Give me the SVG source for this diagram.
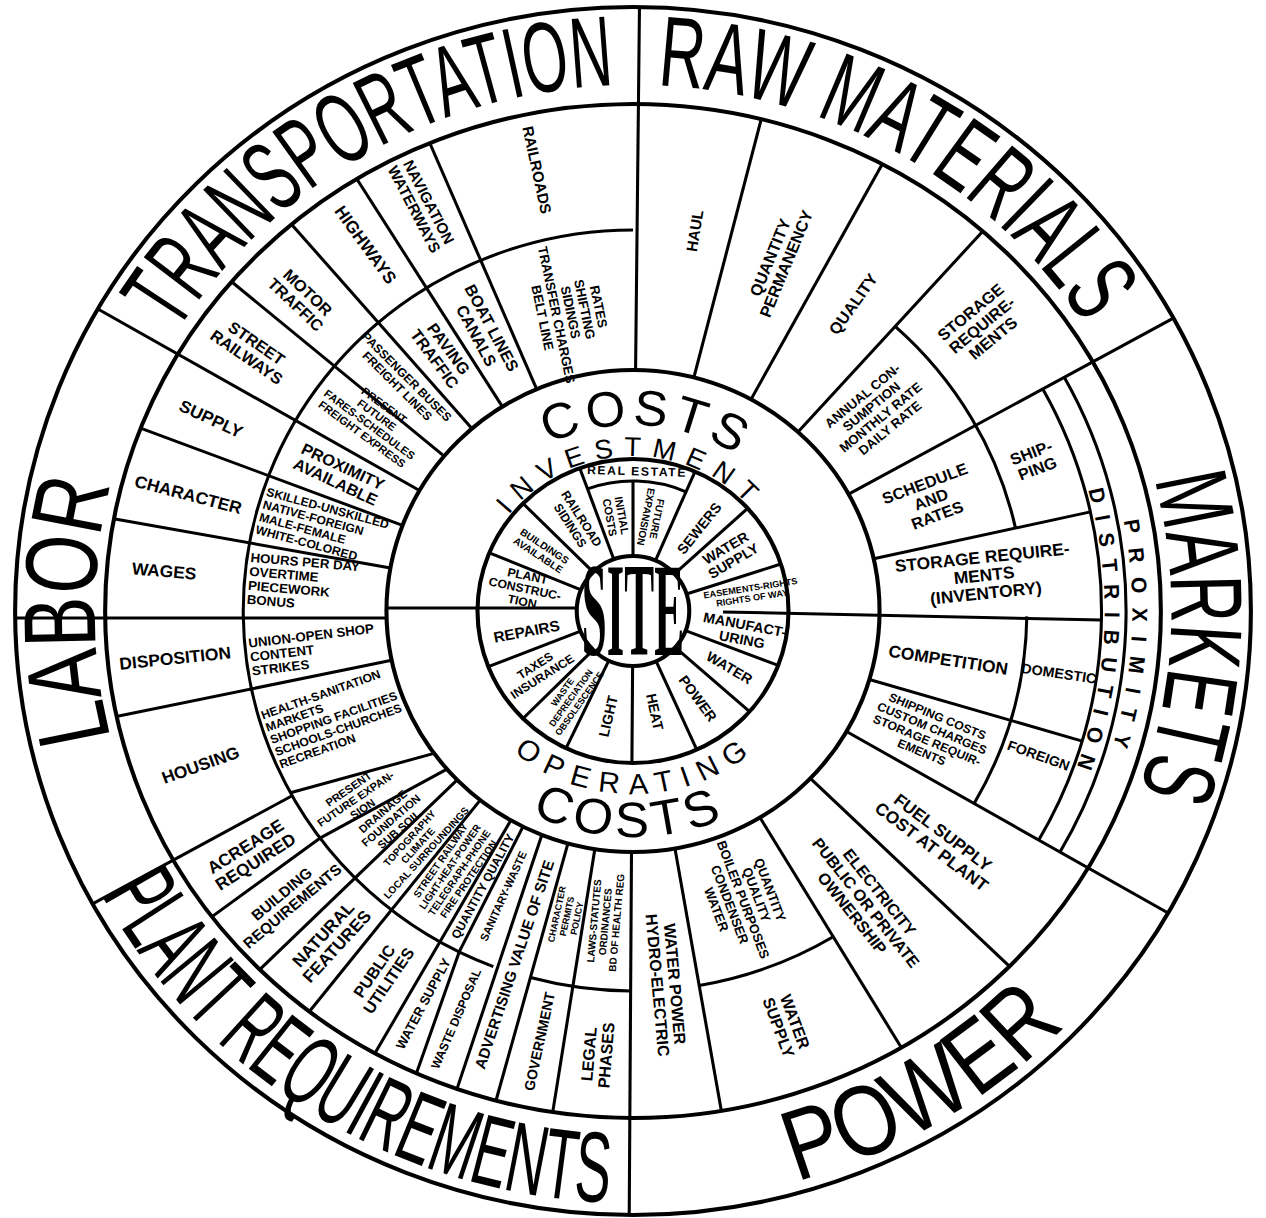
<svg xmlns="http://www.w3.org/2000/svg" width="1266" height="1218" viewBox="0 0 1266 1218">
<style>
.c{fill:none;stroke:#000;stroke-width:4}
.a{fill:none;stroke:#000;stroke-width:3}
.l line{stroke:#000;stroke-width:3}
.s{font-family:"Liberation Sans",Arial,sans-serif;font-weight:bold;text-anchor:middle;fill:#000}
.st{font-family:"Liberation Sans",Arial,sans-serif;font-weight:bold;text-anchor:start;fill:#000}
.b{font-family:"Liberation Sans",Arial,sans-serif;font-size:100px;text-anchor:middle;fill:#000}
.m{font-family:"Liberation Sans",Arial,sans-serif;text-anchor:middle;fill:#000}
</style>
<defs>
<path id="p526" d="M526,0A526,526 0 1,1 -526,0A526,526 0 1,1 526,0"/>
<path id="q592" d="M592,0A592,592 0 1,0 -592,0A592,592 0 1,0 592,0"/>
<path id="p186" d="M186,0A186,186 0 1,1 -186,0A186,186 0 1,1 186,0"/>
<path id="q226" d="M226,0A226,226 0 1,0 -226,0A226,226 0 1,0 226,0"/>
<path id="p155" d="M155,0A155,155 0 1,1 -155,0A155,155 0 1,1 155,0"/>
<path id="q183" d="M183,0A183,183 0 1,0 -183,0A183,183 0 1,0 183,0"/>
<path id="p461" d="M461,0A461,461 0 1,1 -461,0A461,461 0 1,1 461,0"/>
<path id="p488" d="M488,0A488,488 0 1,1 -488,0A488,488 0 1,1 488,0"/>
</defs>
<rect width="1266" height="1218" fill="#fff"/>
<g id="wheel" transform="translate(633,611) scale(1.023,1)">
<g id="rings">
<circle class="c" r="604"/>
<ellipse class="c" rx="516" ry="507"/>
<circle class="c" r="241"/>
<circle class="c" r="152"/>
<circle class="c" r="55"/>
<circle class="a" r="381" pathLength="360" stroke-dasharray="159 400" transform="rotate(111)"/>
<circle class="a" r="383" pathLength="360" stroke-dasharray="35.5 400" transform="rotate(-48)"/>
<circle class="a" r="385" pathLength="360" stroke-dasharray="29.2 400" transform="rotate(0.8)"/>
<circle class="a" r="380" pathLength="360" stroke-dasharray="14.9 400" transform="rotate(90.4)"/>
<circle class="a" r="380" pathLength="360" stroke-dasharray="21.2 400" transform="rotate(59)"/>
<circle class="a" r="458" pathLength="360" stroke-dasharray="59 400" transform="rotate(-29)"/>
<circle class="a" r="482" pathLength="360" stroke-dasharray="59 400" transform="rotate(-29)"/>
<circle class="a" r="130" pathLength="360" stroke-dasharray="43.5 400" transform="rotate(-110)"/>
</g>
<g id="connectors" class="l">
<line x1="241" x2="604" transform="rotate(-150)"/>
<line x1="241" x2="604" transform="rotate(-89.4)"/>
<line x1="241" x2="604" transform="rotate(-29)"/>
<line x1="241" x2="604" transform="rotate(30)"/>
<line x1="241" x2="604" transform="rotate(90.35)"/>
<line x1="381" x2="604" transform="rotate(151)"/>
<line x1="-604" y1="7" x2="-241" y2="7"/>
<line x1="-241" y1="-3" x2="-55" y2="-3"/>
<line x1="88" y1="1" x2="458" y2="9"/>
<line x1="241" x2="513" transform="rotate(-140)"/>
<line x1="241" x2="512" transform="rotate(-130.8)"/>
<line x1="241" x2="510" transform="rotate(-122)"/>
<line x1="241" x2="509" transform="rotate(-113)"/>
<line x1="241" x2="508" transform="rotate(-75.7)"/>
<line x1="241" x2="510" transform="rotate(-61.4)"/>
<line x1="241" x2="512" transform="rotate(-48)"/>
<line x1="241" x2="458" transform="rotate(-12.5)"/>
<line x1="241" x2="458" transform="rotate(16.5)"/>
<line x1="241" x2="512" transform="rotate(44)"/>
<line x1="241" x2="510" transform="rotate(59)"/>
<line x1="241" x2="508" transform="rotate(80.2)"/>
<line x1="241" x2="508" transform="rotate(98.9)"/>
<line x1="241" x2="508" transform="rotate(105.3)"/>
<line x1="241" y1="0" x2="508.7" y2="-16.9" transform="rotate(111.7)"/>
<line x1="380" y1="0" x2="508.7" y2="-16.9" transform="rotate(116.5)"/>
<line x1="241" x2="380" transform="rotate(116.5)"/>
<line x1="241" x2="510" transform="rotate(119.7)"/>
<line x1="241" x2="511" transform="rotate(128.3)"/>
<line x1="241" x2="512" transform="rotate(135.5)"/>
<line x1="380" x2="513" transform="rotate(143.4)"/>
<line x1="380" y1="0" x2="240.3" y2="-18.5" transform="rotate(143.4)"/>
<line x1="381" y1="0" x2="238.8" y2="-32.3" transform="rotate(151.5)"/>
<line x1="241" x2="515" transform="rotate(200.8)"/>
<line x1="241" x2="516" transform="rotate(190.3)"/>
<line x1="241" x2="516" transform="rotate(168.2)"/>
<line x1="55" x2="152" transform="rotate(-110)"/>
<line x1="55" x2="130" transform="rotate(-90)"/>
<line x1="55" x2="152" transform="rotate(-66.5)"/>
<line x1="55" x2="152" transform="rotate(-42.5)"/>
<line x1="55" x2="152" transform="rotate(-18)"/>
<line x1="55" x2="152" transform="rotate(21)"/>
<line x1="55" x2="152" transform="rotate(41.4)"/>
<line x1="55" x2="152" transform="rotate(65.8)"/>
<line x1="55" x2="152" transform="rotate(90.4)"/>
<line x1="55" x2="152" transform="rotate(115.5)"/>
<line x1="55" x2="152" transform="rotate(135)"/>
<line x1="55" x2="152" transform="rotate(158.5)"/>
<line x1="55" x2="152" transform="rotate(202.5)"/>
<line x1="55" x2="152" transform="rotate(225)"/>
</g>

<g id="big-labels">
<text id="transportation" class="b" transform="rotate(60)"><textPath href="#p526" startOffset="50%" textLength="514" lengthAdjust="spacingAndGlyphs">TRANSPORTATION</textPath></text>
<text id="raw-materials" class="b" transform="rotate(119.8)"><textPath href="#p526" startOffset="50%" textLength="500" lengthAdjust="spacingAndGlyphs">RAW MATERIALS</textPath></text>
<text id="markets" class="b" transform="rotate(-177.3)"><textPath href="#p526" startOffset="50%" textLength="316" lengthAdjust="spacingAndGlyphs">MARKETS</textPath></text>
<text id="labor" class="b" transform="rotate(0)"><textPath href="#p526" startOffset="50%" textLength="257" lengthAdjust="spacingAndGlyphs">LABOR</textPath></text>
<text id="power" class="b" transform="rotate(-120.6)"><textPath href="#q592" startOffset="50%" textLength="309" lengthAdjust="spacingAndGlyphs">POWER</textPath></text>
<text id="plant-requirements" class="b" transform="rotate(-58.2)"><textPath href="#q592" startOffset="50%" textLength="610" lengthAdjust="spacingAndGlyphs">PLANT REQUIREMENTS</textPath></text>
<text id="costs-top" class="m" font-size="50" letter-spacing="5" transform="rotate(94)"><textPath href="#p186" startOffset="50%">COSTS</textPath></text>
<text id="costs-bottom" class="m" font-size="50" letter-spacing="5" transform="rotate(-89)"><textPath href="#q226" startOffset="50%">COSTS</textPath></text>
<text id="investment" class="m" font-size="27" letter-spacing="10" transform="rotate(89)"><textPath href="#p155" startOffset="50%">INVESTMENT</textPath></text>
<text id="operating" class="m" font-size="29" letter-spacing="10" transform="rotate(-91)"><textPath href="#q183" startOffset="50%">OPERATING</textPath></text>
<text id="distribution" class="m" font-size="21" font-weight="bold" letter-spacing="12" transform="rotate(-177)"><textPath href="#p461" startOffset="50%">DISTRIBUTION</textPath></text>
<text id="proximity" class="m" font-size="21" font-weight="bold" letter-spacing="14" transform="rotate(-176.5)"><textPath href="#p488" startOffset="50%">PROXIMITY</textPath></text>
</g>

<g id="site"><text x="0" y="44" font-family="Liberation Serif,serif" font-weight="bold" font-size="134" text-anchor="middle" textLength="100" lengthAdjust="spacingAndGlyphs" fill="#000">SITE</text></g>

<!-- TRANSPORTATION -->
<g id="street-railways" transform="rotate(215) translate(455,0) rotate(180)"><text class="s" font-size="16"><tspan x="0" y="-2.7">STREET</tspan><tspan x="0" y="14.3">RAILWAYS</tspan></text></g>
<g id="motor-traffic" transform="rotate(224) translate(450,0) rotate(180)"><text class="s" font-size="16"><tspan x="0" y="-2.7">MOTOR</tspan><tspan x="0" y="14.3">TRAFFIC</tspan></text></g>
<g id="highways" transform="rotate(234.5) translate(450,0) rotate(180)"><text class="s" font-size="17" y="6">HIGHWAYS</text></g>
<g id="navigation" transform="rotate(243) translate(455,0) rotate(180)"><text class="s" font-size="15"><tspan x="0" y="-2.6">NAVIGATION</tspan><tspan x="0" y="13.4">WATERWAYS</tspan></text></g>
<g id="railroads" transform="rotate(258) translate(451,0) rotate(180)"><text class="s" font-size="15" y="5.4">RAILROADS</text></g>
<g id="present-fares" transform="rotate(217) translate(318,0) rotate(180)"><text class="s" font-size="11"><tspan x="0" y="-14">PRESENT</tspan><tspan x="0" y="-2">FUTURE</tspan><tspan x="0" y="10">FARES-SCHEDULES</tspan><tspan x="0" y="22">FREIGHT EXPRESS</tspan></text></g>
<g id="passenger-buses" transform="rotate(225.5) translate(322,0) rotate(180)"><text class="s" font-size="12"><tspan x="0" y="-2.2">PASSENGER BUSES</tspan><tspan x="0" y="10.8">FREIGHT LINES</tspan></text></g>
<g id="paving" transform="rotate(234) translate(318,0) rotate(180)"><text class="s" font-size="16"><tspan x="0" y="-2.7">PAVING</tspan><tspan x="0" y="14.3">TRAFFIC</tspan></text></g>
<g id="boat-lines" transform="rotate(242.5) translate(315,0) rotate(180)"><text class="s" font-size="16"><tspan x="0" y="-2.7">BOAT LINES</tspan><tspan x="0" y="14.3">CANALS</tspan></text></g>
<g id="rates" transform="rotate(258.5) translate(305,0) rotate(180)"><text class="s" font-size="13"><tspan x="0" y="-23.3">RATES</tspan><tspan x="0" y="-9.3">SHIFTING</tspan><tspan x="0" y="4.7">SIDINGS</tspan><tspan x="0" y="18.7">TRANSFER CHARGES</tspan><tspan x="0" y="32.7">BELT LINE</tspan></text></g>

<!-- RAW MATERIALS -->
<g id="haul" transform="rotate(-81) translate(385,0)"><text class="s" font-size="15" y="5.4">HAUL</text></g>
<g id="quantity-permanency" transform="rotate(-68) translate(378,0)"><text class="s" font-size="16"><tspan x="0" y="-2.7">QUANTITY</tspan><tspan x="0" y="14.3">PERMANENCY</tspan></text></g>
<g id="quality" transform="rotate(-55) translate(375,0)"><text class="s" font-size="16" y="5.8">QUALITY</text></g>
<g id="storage-raw" transform="rotate(-40) translate(445,0)"><text class="s" font-size="16"><tspan x="0" y="-11.2">STORAGE</tspan><tspan x="0" y="5.8">REQUIRE-</tspan><tspan x="0" y="22.8">MENTS</tspan></text></g>
<g id="annual" transform="rotate(-40) translate(310,0)"><text class="s" font-size="13"><tspan x="0" y="-16.3">ANNUAL CON-</tspan><tspan x="0" y="-2.3">SUMPTION</tspan><tspan x="0" y="11.7">MONTHLY RATE</tspan><tspan x="0" y="25.7">DAILY RATE</tspan></text></g>

<!-- MARKETS -->
<g id="shipping" transform="rotate(-21) translate(420,0)"><text class="s" font-size="16"><tspan x="0" y="-2.7">SHIP-</tspan><tspan x="0" y="14.3">PING</tspan></text></g>
<g id="schedule" transform="rotate(-21) translate(312,0)"><text class="s" font-size="16"><tspan x="0" y="-11.2">SCHEDULE</tspan><tspan x="0" y="5.8">AND</tspan><tspan x="0" y="22.8">RATES</tspan></text></g>
<g id="storage-inventory" transform="rotate(-6) translate(345,0)"><text class="s" font-size="17"><tspan x="0" y="-11.9">STORAGE REQUIRE-</tspan><tspan x="0" y="6.1">MENTS</tspan><tspan x="0" y="24.1">(INVENTORY)</tspan></text></g>
<g id="competition" transform="rotate(9) translate(312,0)"><text class="s" font-size="17" y="6">COMPETITION</text></g>
<g id="domestic" transform="rotate(8.5) translate(421,0)"><text class="s" font-size="14" y="5">DOMESTIC</text></g>
<g id="shipping-costs" transform="rotate(23) translate(315,0)"><text class="s" font-size="12"><tspan x="0" y="-15.2">SHIPPING COSTS</tspan><tspan x="0" y="-2.2">CUSTOM CHARGES</tspan><tspan x="0" y="10.8">STORAGE REQUIR-</tspan><tspan x="0" y="23.8">EMENTS</tspan></text></g>
<g id="foreign" transform="rotate(20) translate(422,0)"><text class="s" font-size="14" y="5">FOREIGN</text></g>

<!-- POWER -->
<g id="fuel" transform="rotate(37.5) translate(375,0)"><text class="s" font-size="17"><tspan x="0" y="-2.9">FUEL SUPPLY</tspan><tspan x="0" y="15.1">COST AT PLANT</tspan></text></g>
<g id="electricity" transform="rotate(52) translate(370,0)"><text class="s" font-size="16"><tspan x="0" y="-11.2">ELECTRICITY</tspan><tspan x="0" y="5.8">PUBLIC OR PRIVATE</tspan><tspan x="0" y="22.8">OWNERSHIP</tspan></text></g>
<g id="quantity-boiler" transform="rotate(69.5) translate(308,0)"><text class="s" font-size="13"><tspan x="0" y="-23.3">QUANTITY</tspan><tspan x="0" y="-9.3">QUALITY</tspan><tspan x="0" y="4.7">BOILER PURPOSES</tspan><tspan x="0" y="18.7">CONDENSER</tspan><tspan x="0" y="32.7">WATER</tspan></text></g>
<g id="water-supply-power" transform="rotate(70) translate(440,0)"><text class="s" font-size="16"><tspan x="0" y="-2.7">WATER</tspan><tspan x="0" y="14.3">SUPPLY</tspan></text></g>
<g id="water-power" transform="rotate(85) translate(375,0)"><text class="s" font-size="16"><tspan x="0" y="-2.7">WATER POWER</tspan><tspan x="0" y="14.3">HYDRO-ELECTRIC</tspan></text></g>

<!-- PLANT REQUIREMENTS -->
<g id="legal" transform="rotate(94.5) translate(445,0) rotate(180)"><text class="s" font-size="16"><tspan x="0" y="-2.7">LEGAL</tspan><tspan x="0" y="14.3">PHASES</tspan></text></g>
<g id="government" transform="rotate(102) translate(440,0) rotate(180)"><text class="s" font-size="14" y="5">GOVERNMENT</text></g>
<g id="advertising" transform="rotate(108.2) translate(372,0) rotate(180)"><text class="s" font-size="15" y="5.4">ADVERTISING VALUE OF SITE</text></g>
<g id="waste-disposal" transform="rotate(113) translate(443,0) rotate(180)"><text class="s" font-size="12" y="4.3">WASTE DISPOSAL</text></g>
<g id="water-supply-plant" transform="rotate(117.6) translate(443,0) rotate(180)"><text class="s" font-size="13" y="4.7">WATER SUPPLY</text></g>
<g id="public-utilities" transform="rotate(124) translate(440,0) rotate(180)"><text class="s" font-size="16"><tspan x="0" y="-2.7">PUBLIC</tspan><tspan x="0" y="14.3">UTILITIES</tspan></text></g>
<g id="natural-features" transform="rotate(132) translate(443,0) rotate(180)"><text class="s" font-size="17"><tspan x="0" y="-2.9">NATURAL</tspan><tspan x="0" y="15.1">FEATURES</tspan></text></g>
<g id="building" transform="rotate(139.5) translate(445,0) rotate(180)"><text class="s" font-size="15"><tspan x="0" y="-2.6">BUILDING</tspan><tspan x="0" y="13.4">REQUIREMENTS</tspan></text></g>
<g id="acreage" transform="rotate(147) translate(446,0) rotate(180)"><text class="s" font-size="17"><tspan x="0" y="-2.9">ACREAGE</tspan><tspan x="0" y="15.1">REQUIRED</tspan></text></g>
<g id="present-expansion" transform="rotate(145.3) translate(330,0) rotate(180)"><text class="s" font-size="11"><tspan x="0" y="-8">PRESENT</tspan><tspan x="0" y="4">FUTURE EXPAN-</tspan><tspan x="0" y="16">SION</tspan></text></g>
<g id="drainage" transform="rotate(138.5) translate(316,0) rotate(180)"><text class="s" font-size="11"><tspan x="0" y="-8">DRAINAGE</tspan><tspan x="0" y="4">FOUNDATION</tspan><tspan x="0" y="16">SUB SOIL</tspan></text></g>
<g id="topography" transform="rotate(131.9) translate(315,0) rotate(180)"><text class="s" font-size="10"><tspan x="0" y="-7.4">TOPOGRAPHY</tspan><tspan x="0" y="3.6">CLIMATE</tspan><tspan x="0" y="14.6">LOCAL SURROUNDINGS</tspan></text></g>
<g id="street-railway" transform="rotate(124) translate(312,0) rotate(180)"><text class="s" font-size="10"><tspan x="0" y="-12.9">STREET RAILWAY</tspan><tspan x="0" y="-1.9">LIGHT-HEAT-POWER</tspan><tspan x="0" y="9.1">TELEGRAPH-PHONE</tspan><tspan x="0" y="20.1">FIRE PROTECTION</tspan></text></g>
<g id="quantity-quality" transform="rotate(118.1) translate(312,0) rotate(180)"><text class="s" font-size="12" y="4.3">QUANTITY QUALITY</text></g>
<g id="sanitary" transform="rotate(114) translate(312,0) rotate(180)"><text class="s" font-size="11" y="4">SANITARY-WASTE</text></g>
<g id="character-permits" transform="rotate(102) translate(312,0) rotate(180)"><text class="s" font-size="9"><tspan x="0" y="-6.7">CHARACTER</tspan><tspan x="0" y="3.3">PERMITS</tspan><tspan x="0" y="13.3">POLICY</tspan></text></g>
<g id="laws" transform="rotate(95) translate(312,0) rotate(180)"><text class="s" font-size="10"><tspan x="0" y="-7.4">LAWS-STATUTES</tspan><tspan x="0" y="3.6">ORDINANCES</tspan><tspan x="0" y="14.6">BD OF HEALTH REG</tspan></text></g>

<!-- LABOR -->
<g id="supply" transform="rotate(205) translate(455,0) rotate(180)"><text class="s" font-size="17" y="6">SUPPLY</text></g>
<g id="character" transform="rotate(195) translate(450,0) rotate(180)"><text class="s" font-size="17" y="6">CHARACTER</text></g>
<g id="wages" transform="rotate(185) translate(460,0) rotate(180)"><text class="s" font-size="17" y="6">WAGES</text></g>
<g id="disposition" transform="rotate(174) translate(450,0) rotate(180)"><text class="s" font-size="17" y="6">DISPOSITION</text></g>
<g id="housing" transform="rotate(160) translate(450,0) rotate(180)"><text class="s" font-size="17" y="6">HOUSING</text></g>
<g id="proximity-available" transform="rotate(205.5) translate(318,0) rotate(180)"><text class="s" font-size="16"><tspan x="0" y="-2.7">PROXIMITY</tspan><tspan x="0" y="14.3">AVAILABLE</tspan></text></g>
<g id="skilled" transform="rotate(195.5) translate(377,0) rotate(180)"><text class="st" font-size="12"><tspan x="0" y="-15.2">SKILLED-UNSKILLED</tspan><tspan x="0" y="-2.2">NATIVE-FOREIGN</tspan><tspan x="0" y="10.8">MALE-FEMALE</tspan><tspan x="0" y="23.8">WHITE-COLORED</tspan></text></g>
<g id="hours" transform="rotate(185) translate(377,0) rotate(180)"><text class="st" font-size="13"><tspan x="0" y="-16.3">HOURS PER DAY</tspan><tspan x="0" y="-2.3">OVERTIME</tspan><tspan x="0" y="11.7">PIECEWORK</tspan><tspan x="0" y="25.7">BONUS</tspan></text></g>
<g id="union" transform="rotate(173) translate(377,0) rotate(180)"><text class="st" font-size="13"><tspan x="0" y="-9.3">UNION-OPEN SHOP</tspan><tspan x="0" y="4.7">CONTENT</tspan><tspan x="0" y="18.7">STRIKES</tspan></text></g>
<g id="health" transform="rotate(160) translate(377,0) rotate(180)"><text class="st" font-size="12"><tspan x="0" y="-21.7">HEALTH-SANITATION</tspan><tspan x="0" y="-8.7">MARKETS</tspan><tspan x="0" y="4.3">SHOPPING FACILITIES</tspan><tspan x="0" y="17.3">SCHOOLS-CHURCHES</tspan><tspan x="0" y="30.3">RECREATION</tspan></text></g>

<!-- CENTER -->
<g id="real-estate" transform="rotate(-88.4) translate(140,0) rotate(90)"><text class="s" font-size="12" letter-spacing="1.5" y="4.3">REAL ESTATE</text></g>
<g id="initial-costs" transform="rotate(-100) translate(96,0) rotate(180)"><text class="s" font-size="11"><tspan x="0" y="-2">INITIAL</tspan><tspan x="0" y="10">COSTS</tspan></text></g>
<g id="future-expansion" transform="rotate(-79) translate(95,0) rotate(180)"><text class="s" font-size="10"><tspan x="0" y="-1.9">FUTURE</tspan><tspan x="0" y="9.1">EXPANSION</tspan></text></g>
<g id="sewers" transform="rotate(-52) translate(105,0)"><text class="s" font-size="14" y="5">SEWERS</text></g>
<g id="water-supply-c" transform="rotate(-31) translate(110,0)"><text class="s" font-size="14"><tspan x="0" y="-2.5">WATER</tspan><tspan x="0" y="12.5">SUPPLY</tspan></text></g>
<g id="rights" transform="rotate(-9) translate(117,0)"><text class="s" font-size="9"><tspan x="0" y="-1.6">EASEMENTS-RIGHTS</tspan><tspan x="0" y="8.4">RIGHTS OF WAY</tspan></text></g>
<g id="manufacturing" transform="rotate(11) translate(110,0)"><text class="s" font-size="14"><tspan x="0" y="-2.5">MANUFACT-</tspan><tspan x="0" y="12.5">URING</tspan></text></g>
<g id="water-c" transform="rotate(31) translate(110,0)"><text class="s" font-size="14" y="5">WATER</text></g>
<g id="power-c" transform="rotate(54) translate(108,0)"><text class="s" font-size="14" y="5">POWER</text></g>
<g id="heat" transform="rotate(78) translate(103,0)"><text class="s" font-size="14" y="5">HEAT</text></g>
<g id="light" transform="rotate(103) translate(108,0) rotate(180)"><text class="s" font-size="14" y="5">LIGHT</text></g>
<g id="depreciation" transform="rotate(125) translate(106,0) rotate(180)"><text class="s" font-size="9"><tspan x="0" y="-6.7">WASTE</tspan><tspan x="0" y="3.3">DEPRECIATION</tspan><tspan x="0" y="13.3">OBSOLESCENCE</tspan></text></g>
<g id="taxes" transform="rotate(147) translate(110,0) rotate(180)"><text class="s" font-size="12"><tspan x="0" y="-2.2">TAXES</tspan><tspan x="0" y="10.8">INSURANCE</tspan></text></g>
<g id="repairs" transform="rotate(169) translate(106,0) rotate(180)"><text class="s" font-size="15" y="5.4">REPAIRS</text></g>
<g id="plant-construction" transform="rotate(192) translate(108,0) rotate(180)"><text class="s" font-size="12"><tspan x="0" y="-8.7">PLANT</tspan><tspan x="0" y="4.3">CONSTRUC-</tspan><tspan x="0" y="17.3">TION</tspan></text></g>
<g id="purchase" transform="rotate(214) translate(108,0) rotate(180)"><text class="s" font-size="10"><tspan x="0" y="-1.9">BUILDINGS</tspan><tspan x="0" y="9.1">AVAILABLE</tspan></text></g>
<g id="railroad-sidings" transform="rotate(238) translate(105,0) rotate(180)"><text class="s" font-size="12"><tspan x="0" y="-2.2">RAILROAD</tspan><tspan x="0" y="10.8">SIDINGS</tspan></text></g>
</g>
</svg>
